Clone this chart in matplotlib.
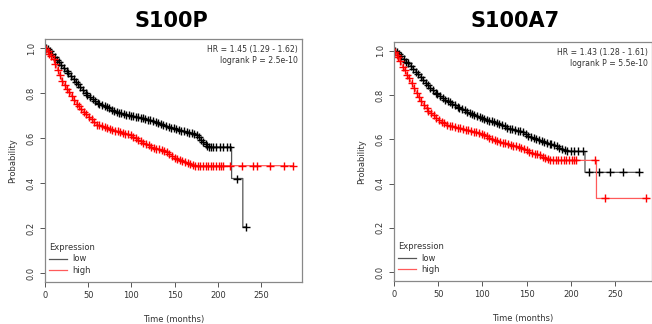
import matplotlib
matplotlib.use("Agg")
import matplotlib.pyplot as plt
import numpy as np

# ---- S100P ----
p_low_t = [0, 5, 10, 20, 30, 40, 50, 60, 70, 80, 90, 100, 110, 125, 140, 160, 175, 180, 185, 190, 216, 216, 229, 229, 233]
p_low_s = [1.0, 0.99, 0.964, 0.92, 0.876, 0.831, 0.787, 0.757, 0.742, 0.72, 0.708, 0.698, 0.69, 0.676, 0.653, 0.631,
           0.616, 0.594, 0.575, 0.56, 0.56, 0.42, 0.42, 0.205, 0.205]
p_high_t = [0, 5, 10, 20, 30, 40, 50, 60, 75, 90, 100, 110, 125, 140, 150, 160, 170, 175, 287]
p_high_s = [1.0, 0.975, 0.95, 0.853, 0.794, 0.735, 0.698, 0.66, 0.638, 0.624, 0.61, 0.587, 0.557, 0.542, 0.513,
            0.498, 0.48, 0.477, 0.477]
p_low_cens = [1, 3, 6, 8, 11, 14, 16, 19, 22, 25, 27, 30, 33, 36, 38, 41, 44, 47, 49, 52, 55, 58, 61, 63, 66, 69,
              72, 74, 77, 80, 83, 86, 88, 91, 94, 97, 99, 102, 105, 108, 111, 113, 116, 119, 122, 125, 128, 131,
              134, 137, 140, 143, 146, 149, 152, 155, 158, 161, 164, 167, 170, 173, 176, 178, 181, 183, 186, 188,
              190, 192, 195, 198, 202, 206, 211, 214, 222, 233]
p_high_cens = [1, 3, 5, 7, 10, 12, 15, 17, 20, 23, 26, 28, 31, 34, 37, 39, 42, 45, 48, 51, 54, 57, 60, 63, 66, 69,
               72, 75, 78, 81, 84, 87, 90, 93, 96, 99, 102, 105, 108, 111, 114, 117, 120, 123, 126, 129, 132, 135,
               138, 141, 144, 147, 150, 153, 156, 159, 162, 165, 168, 171, 174, 177, 180, 183, 186, 189, 192, 195,
               198, 201, 204, 206, 214, 228, 241, 245, 260, 277, 287]

# ---- S100A7 ----
a_low_t = [0, 5, 10, 20, 30, 40, 50, 60, 75, 90, 100, 115, 130, 145, 155, 170, 185, 195, 216, 216, 278]
a_low_s = [1.0, 0.99, 0.967, 0.929, 0.884, 0.838, 0.80, 0.775, 0.741, 0.71, 0.695, 0.676, 0.65, 0.635, 0.609,
           0.59, 0.567, 0.547, 0.545, 0.451, 0.451]
a_high_t = [0, 5, 10, 15, 20, 30, 40, 50, 60, 75, 90, 100, 115, 130, 145, 155, 165, 175, 180, 229, 229, 288]
a_high_s = [1.0, 0.97, 0.929, 0.891, 0.854, 0.778, 0.725, 0.691, 0.665, 0.65, 0.635, 0.624, 0.594, 0.578, 0.56,
            0.54, 0.529, 0.507, 0.505, 0.505, 0.333, 0.333]
a_low_cens = [1, 3, 6, 8, 11, 14, 16, 19, 22, 25, 27, 30, 33, 36, 38, 41, 44, 47, 49, 52, 55, 58, 61, 63, 66, 69,
              72, 74, 77, 80, 83, 86, 88, 91, 94, 97, 99, 102, 105, 108, 111, 113, 116, 119, 122, 125, 128, 131,
              134, 137, 140, 143, 146, 149, 152, 155, 158, 161, 164, 167, 170, 173, 176, 178, 181, 184, 187, 190,
              193, 196, 200, 204, 208, 214, 221, 232, 244, 259, 277]
a_high_cens = [1, 3, 5, 7, 10, 12, 15, 17, 20, 23, 26, 28, 31, 34, 37, 39, 42, 45, 48, 51, 54, 57, 60, 63, 66, 69,
               72, 75, 78, 81, 84, 87, 90, 93, 96, 99, 102, 105, 108, 111, 114, 117, 120, 123, 126, 129, 132, 135,
               138, 141, 144, 147, 150, 153, 156, 159, 162, 165, 168, 171, 174, 177, 180, 183, 186, 189, 192, 195,
               198, 201, 204, 206, 227, 239, 285]

panels = [
    dict(title="S100P", hr="HR = 1.45 (1.29 - 1.62)", p="logrank P = 2.5e-10",
         low=(p_low_t, p_low_s, p_low_cens), high=(p_high_t, p_high_s, p_high_cens),
         box=(45, 39, 302, 282), xmax=297.5, title_x=171),
    dict(title="S100A7", hr="HR = 1.43 (1.28 - 1.61)", p="logrank P = 5.5e-10",
         low=(a_low_t, a_low_s, a_low_cens), high=(a_high_t, a_high_s, a_high_cens),
         box=(394, 42, 652, 281), xmax=291.8, title_x=515),
]

W, H = 652, 324
fig = plt.figure(figsize=(W / 100, H / 100), dpi=100)
txt = "#333333"

for pn in panels:
    x0, y0, x1, y1 = pn["box"]
    ax = fig.add_axes([x0 / W, 1 - y1 / H, (x1 - x0) / W, (y1 - y0) / H])
    for key, col, lcol, lab in [("low", "black", "#555555", "low"), ("high", "red", "#ff5a5a", "high")]:
        t, s, c = pn[key]
        ax.plot(t, s, color=lcol, lw=0.9, label=lab)
        cy = np.interp(c, t, s)
        ax.plot(c, cy, ls="none", marker="+", ms=5.5, mew=1.0, color=col)
    ax.set_xlim(0, pn["xmax"])
    ax.set_ylim(-0.04, 1.04)
    ax.set_xticks([0, 50, 100, 150, 200, 250])
    ax.set_yticks([0.0, 0.2, 0.4, 0.6, 0.8, 1.0])
    ax.set_yticklabels(["0.0", "0.2", "0.4", "0.6", "0.8", "1.0"], rotation=90, va="center")
    ax.tick_params(labelsize=6, colors="#555555", labelcolor=txt, length=3.5, width=0.7, pad=3)
    for sp in ax.spines.values():
        sp.set_color("#888888")
        sp.set_linewidth(0.9)
    ax.set_xlabel("Time (months)", fontsize=6, color=txt, labelpad=11)
    ax.set_ylabel("Probability", fontsize=6, color=txt, labelpad=7)
    ax.text(0.985, 0.975, pn["hr"] + "\n" + pn["p"], transform=ax.transAxes, ha="right", va="top",
            fontsize=5.6, color=txt, linespacing=1.3)
    leg = ax.legend(title="Expression", loc="lower left", frameon=False, fontsize=6, title_fontsize=6,
                    handlelength=2.2, handletextpad=0.6, borderaxespad=0.2, labelspacing=0.25,
                    alignment="left", bbox_to_anchor=(-0.005, 0.01))
    for tx in leg.get_texts():
        tx.set_color(txt)
    leg.get_title().set_color(txt)
    fig.text(pn["title_x"] / W, 1 - 21 / H, pn["title"], ha="center", va="center",
             fontsize=15, fontweight="bold", color="black")

fig.savefig("out.png", dpi=100)
